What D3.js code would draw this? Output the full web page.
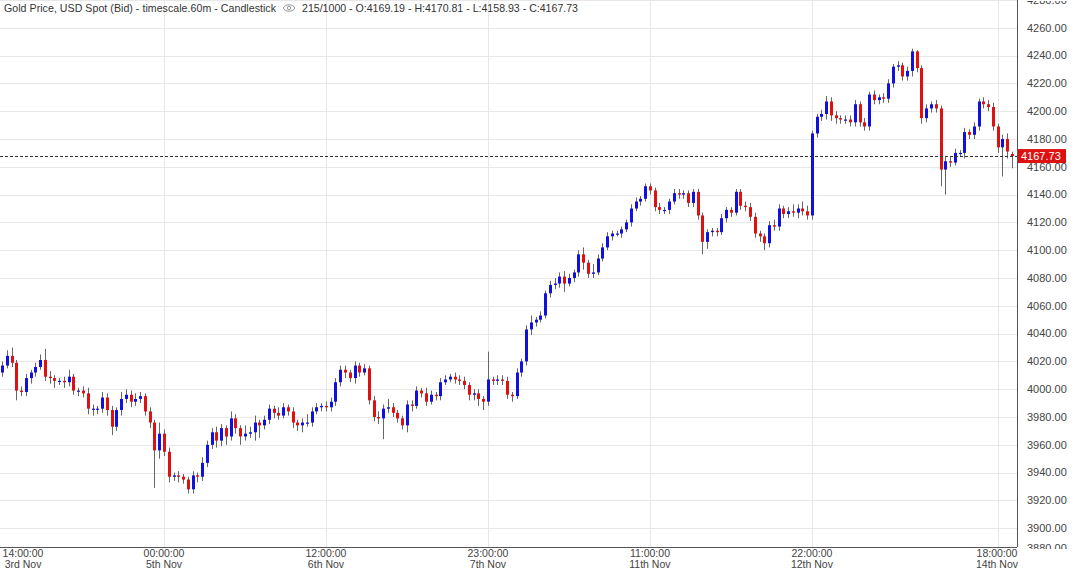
<!DOCTYPE html>
<html>
<head>
<meta charset="utf-8">
<script src="https://cdn.jsdelivr.net/npm/d3@7"></script>
<style>
  body { margin: 0; background: #fff; }
  svg { display: block; font-family: "Liberation Sans", Arial, sans-serif; }
</style>
</head>
<body>
<script>
// hourly closes (open = previous close)
const firstOpen = 4012;
const closes = [
  4017,4024,4019,3999,3998,4008,4012,4016,4021,4009,4008,4006,4006,4005,4009,3999,3999,3997,3986,3986,
  3986,3994,3985,3973,3985,3993,3996,3991,3993,3995,3984,3976,3956,3968,3955,3937,3938,3937,3935,3928,
  3938,3937,3947,3960,3969,3963,3972,3966,3979,3972,3966,3968,
  3969,3976,3974,3978,3986,3983,3981,3987,3984,3976,3974,3976,3976,3984,3987,3988,3987,3991,4005,4014,
  4012,4008,4017,4012,4015,3992,3980,3979,3986,3987,3983,3979,3974,3989,3988,3999,3997,3991,3996,3995,
  4005,4007,4009,4007,4006,4003,3996,3997,3993,3991,4007,4006,4007,4006,3996,3995,4012,4020,
  4043,4048,4050,4053,4069,4075,4076,4081,4076,4080,4084,4097,4091,4083,4084,4094,4102,4110,4112,4112,
  4115,4120,4130,4135,4137,4146,4143,4131,4129,4129,4135,4141,4140,4141,4134,4142,4125,4106,4113,4114,
  4113,4123,4129,4127,4142,4132,4131,4124,4112,4110,4105,4118,4117,4130,4126,4128,4127,4130,4128,4125,
  4184,4196,4198,4207,4197,4195,4194,4194,4192,4205,4192,4189,4212,4208,4210,4209,4220,4232,4233,
  4225,4229,4243,4231,4195,4202,4205,4202,4158,4164,4163,4170,4170,4185,4183,4189,4207,4205,4203,4189,
  4174,4180,4171,4167.73
];
// wick lengths above / below the body
const upWick = [
  3,4,6,2,3,3,2,3,4,8,4,2,2,3,5,2,2,3,4,3,
  2,4,3,3,2,5,4,3,4,3,2,3,2,8,3,3,2,3,2,2,
  3,2,4,3,3,4,3,2,5,3,2,6,
  4,5,2,3,3,2,4,3,2,3,2,3,6,3,3,2,3,3,3,3,
  3,2,3,2,3,2,3,4,3,6,3,2,2,3,3,3,2,4,3,2,
  3,3,2,3,3,3,2,3,3,2,20,2,3,3,3,2,3,2,
  3,5,2,3,2,3,4,3,4,3,2,3,5,2,6,3,3,3,2,2,
  2,2,3,3,2,2,2,2,3,2,2,3,3,2,2,2,2,2,2,2,
  2,3,2,2,2,2,3,3,3,2,2,3,4,3,2,3,5,3,5,4,
  2,2,3,4,3,3,2,3,3,3,2,3,2,3,2,3,3,2,3,
  2,3,2,1,2,3,2,3,2,3,3,3,2,3,2,3,2,3,3,3,
  2,3,4,3
];
const downWick = [
  3,2,3,7,3,3,4,3,2,3,4,5,3,4,3,3,4,3,4,5,
  4,3,4,6,3,4,3,4,3,3,3,4,27,6,3,4,3,4,3,3,
  3,4,3,3,3,5,4,6,3,4,6,3,
  3,6,9,3,3,4,3,2,3,4,4,5,3,3,2,3,3,3,3,3,
  4,3,4,3,2,3,3,4,15,3,3,3,3,5,4,2,3,3,2,3,
  3,2,2,3,3,3,4,4,5,6,3,3,3,3,3,4,2,3,
  3,4,3,2,2,3,3,3,6,2,3,3,5,3,3,2,2,2,3,2,
  3,2,3,2,3,2,3,3,3,3,3,2,3,3,3,3,3,9,5,3,
  3,2,3,3,2,3,3,3,3,4,5,3,3,3,3,3,3,4,3,3,
  3,3,3,4,4,4,3,3,3,3,3,3,3,3,3,3,3,3,3,
  3,3,4,3,4,3,3,3,12,18,3,2,3,4,3,3,3,3,3,3,
  4,21,5,9
];
const yTicks = d3.range(3880, 4281, 20);
const timeTicks = [
  {i: 4, t: "14:00:00", d: "3rd Nov"},
  {i: 34, t: "00:00:00", d: "5th Nov"},
  {i: 68, t: "12:00:00", d: "6th Nov"},
  {i: 102, t: "23:00:00", d: "7th Nov"},
  {i: 136, t: "11:00:00", d: "11th Nov"},
  {i: 170, t: "22:00:00", d: "12th Nov"},
  {i: 209, t: "18:00:00", d: "14th Nov"}
];
const last = 4167.73;

const candles = closes.map((c, i) => {
  const o = i === 0 ? firstOpen : closes[i - 1];
  return {i, o, c, h: Math.max(o, c) + upWick[i], l: Math.min(o, c) - downWick[i]};
});
// last bar as given in the header
Object.assign(candles[candles.length - 1], {o: 4169.19, h: 4170.81, l: 4158.93});

const W = 1073, H = 570, plotR = 1017, plotB = 547;
const svg = d3.select("body").append("svg").attr("width", W).attr("height", H);

const x = d3.scaleLinear().domain([0, closes.length - 1]).range([2, 1012]);
const y = d3.scaleLinear().domain([3880, 4280]).range([556, 0]);

svg.append("clipPath").attr("id", "plot").append("rect")
  .attr("width", plotR).attr("height", plotB);
svg.append("clipPath").attr("id", "axis").append("rect")
  .attr("x", plotR).attr("y", 1).attr("width", W - plotR).attr("height", plotB + 1);

const plot = svg.append("g").attr("clip-path", "url(#plot)");

// grid
plot.selectAll(".hg").data(yTicks).join("line")
  .attr("x1", 0).attr("x2", plotR)
  .attr("y1", d => Math.round(y(d)) + 0.5).attr("y2", d => Math.round(y(d)) + 0.5)
  .attr("stroke", "#e8e8e8");
plot.selectAll(".vg").data(timeTicks.slice(1)).join("line")
  .attr("x1", d => Math.round(x(d.i)) + 0.5).attr("x2", d => Math.round(x(d.i)) + 0.5)
  .attr("y1", 0).attr("y2", plotB)
  .attr("stroke", "#e8e8e8");

// candles
plot.selectAll(".wick").data(candles).join("line")
  .attr("x1", d => Math.round(x(d.i)) + 0.5).attr("x2", d => Math.round(x(d.i)) + 0.5)
  .attr("y1", d => y(d.h)).attr("y2", d => y(d.l))
  .attr("stroke", "#666");
plot.selectAll(".body").data(candles).join("rect")
  .attr("x", d => Math.round(x(d.i)) - 1)
  .attr("width", 3)
  .attr("y", d => y(Math.max(d.o, d.c)))
  .attr("height", d => Math.max(1.2, Math.abs(y(d.o) - y(d.c))))
  .attr("fill", d => d.c >= d.o ? "#1010e0" : "#e01010");

// last price line
plot.append("line")
  .attr("x1", 0).attr("x2", plotR)
  .attr("y1", Math.round(y(last)) + 0.5).attr("y2", Math.round(y(last)) + 0.5)
  .attr("stroke", "#333").attr("stroke-dasharray", "3,2");

// frame
svg.append("line").attr("x1", plotR + 0.5).attr("x2", plotR + 0.5)
  .attr("y1", 0).attr("y2", plotB).attr("stroke", "#555");
svg.append("line").attr("x1", 0).attr("x2", plotR)
  .attr("y1", plotB + 0.5).attr("y2", plotB + 0.5).attr("stroke", "#555");

// right axis labels
svg.append("g").attr("clip-path", "url(#axis)")
  .selectAll("text").data(yTicks).join("text")
  .attr("x", 1027).attr("y", d => d === 3880 ? 548 : y(d)).attr("dy", "0.35em")
  .attr("font-size", 11).attr("fill", "#444")
  .text(d => d.toFixed(2));

// last price tag
svg.append("rect").attr("x", plotR + 1).attr("y", y(last) - 7)
  .attr("width", 48).attr("height", 14).attr("fill", "#dd1111");
svg.append("text").attr("x", 1021).attr("y", y(last)).attr("dy", "0.35em")
  .attr("font-size", 11).attr("fill", "#fff").text(last.toFixed(2));

// time axis
const tl = svg.selectAll(".tl").data(timeTicks).join("g")
  .attr("transform", d => `translate(${Math.min(Math.max(x(d.i), 23), 997)},0)`)
  .attr("font-size", 10.5).attr("fill", "#444").attr("text-anchor", "middle");
tl.append("text").attr("y", 557).text(d => d.t);
tl.append("text").attr("y", 568).text(d => d.d);

// header
const head = svg.append("g").attr("font-size", 10.6).attr("fill", "#333");
head.append("text").attr("x", 4).attr("y", 12).attr("textLength", 272)
  .text("Gold Price, USD Spot (Bid) - timescale.60m - Candlestick");
const eye = head.append("g").attr("transform", "translate(289,8)")
  .attr("fill", "none").attr("stroke", "#999");
eye.append("ellipse").attr("rx", 5.5).attr("ry", 3.2);
eye.append("circle").attr("r", 1.8);
head.append("text").attr("x", 302).attr("y", 12).attr("textLength", 276)
  .text("215/1000 - O:4169.19 - H:4170.81 - L:4158.93 - C:4167.73");
</script>
</body>
</html>
